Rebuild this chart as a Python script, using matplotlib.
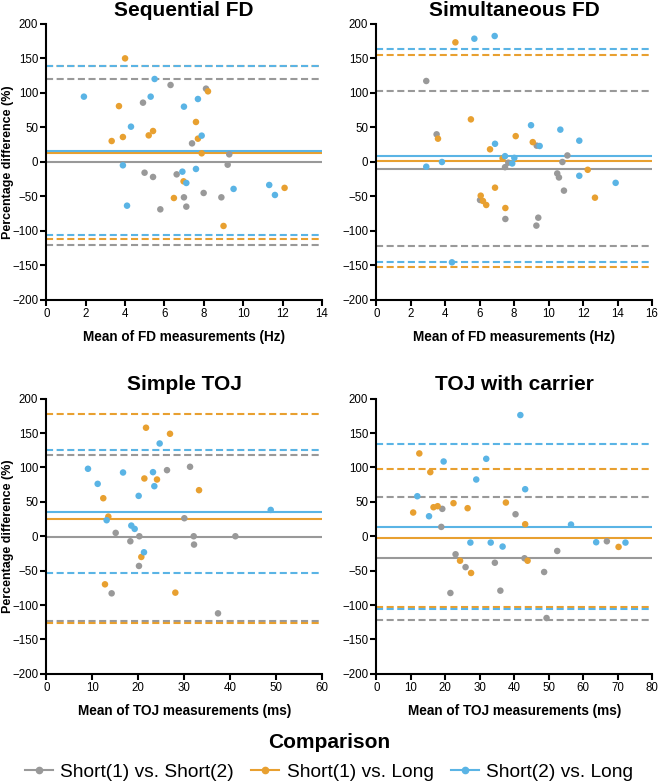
import matplotlib
matplotlib.use("Agg")
import matplotlib.pyplot as plt
from matplotlib.lines import Line2D

plt.rcParams['font.family'] = ['Liberation Sans', 'DejaVu Sans']

series_labels = ["Short(1) vs. Short(2)", "Short(1) vs. Long", "Short(2) vs. Long"]
colors = ["#999999", "#E8A030", "#5AB4E5"]

# ---- Panel 1: Sequential FD ----
seq_gray_x = [6.31, 4.91, 8.11, 7.40, 9.29, 9.21, 4.99, 5.42, 6.62, 5.79, 6.99, 7.11, 7.99, 8.89]
seq_gray_y = [111.6, 86, 106.3, 27, 11.1, -3.9, -15.5, -21.7, -17.9, -68.6, -51.2, -64.7, -44.9, -51.2]
seq_orange_x = [4.0, 3.69, 8.21, 7.60, 3.32, 3.89, 5.20, 5.42, 7.70, 7.89, 6.97, 12.1, 6.48, 9.0]
seq_orange_y = [150.2, 81, 102.4, 58, 30.4, 36.2, 38.6, 44.9, 33.8, 12.6, -28, -37.5, -52.2, -92.7]
seq_blue_x = [1.91, 5.50, 5.30, 6.99, 7.70, 4.30, 7.89, 3.89, 6.91, 7.60, 7.11, 9.51, 11.32, 4.10, 11.61]
seq_blue_y = [94.7, 120.3, 94.7, 80.2, 91.3, 51.2, 38.2, -4.8, -14, -10.1, -30.4, -39, -33.3, -63.3, -47.8]
seq_bias = [0.0, 13.5, 15.9]
seq_upper = [120.5, 139.0, 139.1]
seq_lower = [-120.8, -112.0, -105.8]

# ---- Panel 2: Simultaneous FD ----
sim_gray_x = [2.90, 3.50, 9.31, 11.09, 10.80, 7.66, 7.47, 10.5, 10.6, 10.89, 6.02, 7.49, 9.29, 9.40]
sim_gray_y = [117.4, 40.1, 23.7, 9.5, 0, -1.0, -7.5, -16.6, -22.4, -41.5, -55.1, -82.6, -92.2, -80.7]
sim_orange_x = [4.59, 5.49, 3.58, 8.09, 9.08, 6.6, 7.33, 12.27, 6.89, 6.06, 6.19, 6.38, 7.49, 12.69]
sim_orange_y = [173.4, 61.8, 33.8, 37.5, 28.8, 18.4, 5.3, -11.3, -37.2, -48.8, -56.5, -62.3, -66.7, -51.7]
sim_blue_x = [5.69, 6.87, 8.98, 10.68, 6.89, 9.48, 11.78, 7.47, 8.01, 7.89, 2.90, 3.81, 11.78, 13.89, 4.39]
sim_blue_y = [178.7, 182.6, 53.3, 46.9, 26.4, 23.2, 30.9, 8.5, 6.0, -2.1, -6.8, 0, -20, -30.2, -145.4]
sim_bias = [-10.1, 1.4, 9.2]
sim_upper = [102.4, 155.0, 163.7]
sim_lower = [-122.4, -151.5, -145.4]

# ---- Panel 3: Simple TOJ ----
toj_gray_x = [15.1, 18.29, 20.25, 26.27, 31.28, 30.04, 32.08, 32.15, 41.15, 20.17, 14.22, 37.37]
toj_gray_y = [4.9, -7.3, 0, 96.1, 101, 26.2, 0, -12.1, 0, -43.2, -83, -112.1]
toj_orange_x = [12.4, 13.5, 21.7, 21.34, 24.09, 26.92, 33.24, 20.68, 12.77, 28.08]
toj_orange_y = [55.3, 28.6, 157.8, 84, 82.5, 149, 67, -30.1, -69.9, -82]
toj_blue_x = [9.07, 11.18, 13.13, 16.7, 18.5, 19.23, 20.1, 23.22, 23.51, 24.67, 48.84, 21.26]
toj_blue_y = [98.1, 76.2, 23.3, 92.7, 15.5, 10.7, 58.7, 93.2, 72.8, 134.9, 38.3, -23.3]
toj_bias = [-1.5, 25.7, 35.9]
toj_upper = [118.4, 177.2, 125.2]
toj_lower = [-123.3, -126.2, -53.4]

# ---- Panel 4: TOJ with carrier ----
car_gray_x = [19.15, 40.4, 18.86, 66.9, 52.5, 23.0, 34.4, 43.0, 25.9, 48.7, 21.5, 36.0, 49.4]
car_gray_y = [39.8, 32, 13.6, -7.3, -21.4, -26.2, -38.5, -32, -44.9, -52, -82.5, -79.1, -118.9]
car_orange_x = [12.48, 15.67, 22.4, 37.6, 16.6, 17.8, 26.5, 10.7, 43.2, 70.3, 24.3, 43.9, 27.5]
car_orange_y = [120.4, 93.2, 48.1, 49, 42.2, 43.7, 40.8, 34.5, 17.5, -15.5, -35.6, -35.6, -53.4]
car_blue_x = [41.8, 19.54, 31.9, 29.0, 43.2, 11.9, 15.3, 56.5, 27.3, 33.2, 36.65, 63.8, 72.3]
car_blue_y = [176.2, 108.7, 112.6, 82.5, 68.4, 58.2, 29.1, 17, -9.2, -9.2, -15, -8.7, -9.2]
car_bias = [-32.0, -1.9, 13.6]
car_upper = [56.8, 97.1, 133.5]
car_lower = [-121.9, -102.4, -105.8]

panel_titles = ["Sequential FD", "Simultaneous FD", "Simple TOJ", "TOJ with carrier"]
panel_xlabels = ["Mean of FD measurements (Hz)", "Mean of FD measurements (Hz)",
                 "Mean of TOJ measurements (ms)", "Mean of TOJ measurements (ms)"]
panel_xmax = [14, 16, 60, 80]
panel_xstep = [2, 2, 10, 10]
y_ticks = [-200, -150, -100, -50, 0, 50, 100, 150, 200]

panels = [
    ([(seq_gray_x, seq_gray_y), (seq_orange_x, seq_orange_y), (seq_blue_x, seq_blue_y)], seq_bias, seq_upper, seq_lower),
    ([(sim_gray_x, sim_gray_y), (sim_orange_x, sim_orange_y), (sim_blue_x, sim_blue_y)], sim_bias, sim_upper, sim_lower),
    ([(toj_gray_x, toj_gray_y), (toj_orange_x, toj_orange_y), (toj_blue_x, toj_blue_y)], toj_bias, toj_upper, toj_lower),
    ([(car_gray_x, car_gray_y), (car_orange_x, car_orange_y), (car_blue_x, car_blue_y)], car_bias, car_upper, car_lower),
]

W, H = 658, 782
fig = plt.figure(figsize=(W / 100, H / 100), dpi=100)

boxes = [
    (46.3, 24, 322, 300),
    (376.3, 24, 652, 300),
    (46.3, 398.7, 322, 673.8),
    (376.3, 398.7, 652, 673.8),
]

for i, (box, (pts, bias, upper, lower)) in enumerate(zip(boxes, panels)):
    l, t, r, b = box
    ax = fig.add_axes([l / W, 1 - b / H, (r - l) / W, (b - t) / H])
    for j in range(3):
        ax.axhline(upper[j], color=colors[j], lw=1.5, dashes=(3.4, 1.7), zorder=2)
        ax.axhline(lower[j], color=colors[j], lw=1.5, dashes=(3.4, 1.7), zorder=2)
        ax.axhline(bias[j], color=colors[j], lw=1.5, zorder=2)
    for j, (xs, ys) in enumerate(pts):
        ax.scatter(xs, ys, s=22, color=colors[j], edgecolors='none', zorder=3, clip_on=False)
    ax.set_xlim(0, panel_xmax[i])
    ax.set_ylim(-200, 200)
    ax.set_xticks(range(0, panel_xmax[i] + 1, panel_xstep[i]))
    ax.set_yticks(y_ticks)
    for s in ['top', 'right']:
        ax.spines[s].set_visible(False)
    for s in ['left', 'bottom']:
        ax.spines[s].set_linewidth(1.5)
    ax.tick_params(axis='both', width=1.5, length=4.3, pad=1.5, labelsize=8.3, color='black')
    ax.set_title(panel_titles[i], fontsize=15, fontweight='bold', pad=6)
    ax.set_xlabel(panel_xlabels[i], fontsize=9.8, fontweight='bold', labelpad=7)
    if i % 2 == 0:
        ax.set_ylabel("Percentage difference (%)", fontsize=9.0, fontweight='bold')
        ax.yaxis.set_label_coords((14.3 - l) / (r - l), 0.5)

fig.text(0.5, 1 - 743 / H, "Comparison", ha='center', va='center', fontsize=15, fontweight='bold')
handles = [Line2D([0], [0], color=c, lw=1.5, marker='o', markersize=4.5) for c in colors]
fig.legend(handles, series_labels, loc='center', bbox_to_anchor=(0.5, 1 - 772 / H), ncol=3,
           frameon=False, fontsize=13.8, handlelength=1.45, handletextpad=0.4, columnspacing=0.9,
           borderpad=0, borderaxespad=0)

fig.savefig("out.png", dpi=100)
